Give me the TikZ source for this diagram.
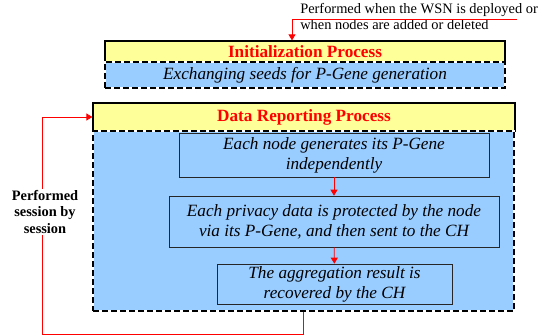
\documentclass[tikz,border=0pt]{standalone}
\usepackage{fontspec}
\setmainfont{Liberation Serif}
\usetikzlibrary{positioning,arrows.meta}
\definecolor{hdryellow}{HTML}{FFFF99}
\definecolor{bodyblue}{HTML}{99CCFF}

\begin{document}
\begin{tikzpicture}[x=1pt, y=-1pt, semithick]
\tikzset{
    phead/.style= {rectangle, draw=black, line width=1.2pt, fill=hdryellow, text=red, inner sep=0pt, font=\fontsize{17.2}{20}\selectfont\bfseries},
    pbody/.style= {rectangle, draw=white, line width=1.6pt, fill=bodyblue, inner sep=0pt, font=\fontsize{17.2}{20}\selectfont\itshape,
                   postaction={draw=black, dash pattern=on 6pt off 3pt}},
    pstep/.style= {rectangle, draw=black!85, fill=bodyblue, align=center, inner sep=0pt, font=\fontsize{17.2}{20}\selectfont\itshape},
    pflow/.style= {red, thick, -{Triangle[length=6pt, width=7pt]}},
    pnote/.style= {align=left, inner sep=0pt, font=\fontsize{14.4}{16}\selectfont},
    plabel/.style= {align=center, fill=white, inner sep=1pt, font=\fontsize{14.4}{16.5}\selectfont\bfseries},
}
\useasboundingbox (0,0) rectangle (539,336);

\node[phead, minimum width=400pt, minimum height=21pt] (inithead) at (305,51.5) {Initialization Process};
\node[pbody, minimum width=400pt, minimum height=26pt] (initbody) at (305,75) {Exchanging seeds for P-Gene generation};

\node[phead, minimum width=422pt, minimum height=28pt] (drhead) at (304,117) {Data Reporting Process};
\node[pbody, minimum width=421pt, minimum height=180pt] (drbody) at (303.5,221) {};

\node[pstep, minimum width=310pt, minimum height=44pt] (gen) at (334,155) {Each node generates its P-Gene\\independently};
\node[pstep, minimum width=330pt, minimum height=51pt] (protect) at (334,221.5) {Each privacy data is protected by the node\\via its P-Gene, and then sent to the CH};
\node[pstep, minimum width=235pt, minimum height=40pt] (recover) at (334.5,284) {The aggregation result is\\recovered by the CH};

\node[pnote, anchor=north west] (note) at (300,3) {Performed when the WSN is deployed or\\when nodes are added or deleted};

\coordinate (noteend) at (517,19);
\coordinate (notedrop) at (292,19);
\coordinate (loopstart) at (303,0);
\coordinate (loopleft) at (42,334);

\draw[pflow] (noteend) -- (notedrop) -- (notedrop |- inithead.north);
\draw[pflow] (gen) -- (protect);
\draw[pflow] (protect) -- (recover);
\draw[pflow] (loopstart |- drbody.south) -- (loopstart |- loopleft) -- (loopleft) |- (drhead.west);

\node[plabel] (session) at (45,212) {Performed\\session by\\session};
\end{tikzpicture}
\end{document}
